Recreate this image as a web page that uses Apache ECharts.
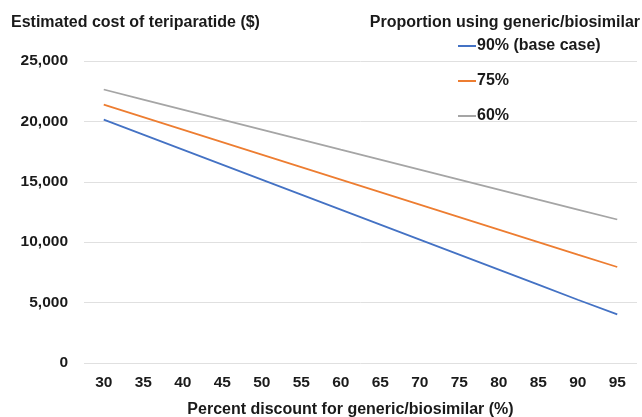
<!DOCTYPE html>
<html>
<head>
<meta charset="utf-8">
<script src="https://cdn.jsdelivr.net/npm/echarts@6/dist/echarts.min.js"></script>
<style>
html,body{margin:0;padding:0;background:#fff;}
#chart{width:642px;height:417px;}
</style>
</head>
<body>
<div id="chart"></div>
<script>
const categories = ['30','35','40','45','50','55','60','65','70','75','80','85','90','95'];
const seriesNames = ['90% (base case)','75%','60%'];
const base90 = [20150,18910,17660,16420,15180,13940,12700,11450,10210,8970,7730,6490,5240,4020];
const prop75 = [21390,20360,19320,18290,17250,16220,15180,14150,13110,12080,11040,10010,8970,7950];
const prop60 = [22640,21810,20980,20150,19320,18490,17660,16840,16010,15180,14350,13520,12700,11880];
const yTicks = {min:0, max:25000, interval:5000};
const colors = ['#4472C4','#ED7D31','#A5A5A5'];
const textColor = '#1a1a1a';
const font = 'Liberation Sans, Arial, sans-serif';

const chart = echarts.init(document.getElementById('chart'), null, {renderer:'canvas'});
const values = [base90, prop75, prop60];
chart.setOption({
  animation:false,
  backgroundColor:'#fff',
  title:[
    {text:'Estimated cost of teriparatide ($)', left:11, top:14.5, padding:0,
     textStyle:{fontFamily:font, fontSize:16, fontWeight:'bold', color:textColor}},
    {text:'Proportion using generic/biosimilar', right:2, top:14.5, padding:0,
     textStyle:{fontFamily:font, fontSize:16, fontWeight:'bold', color:textColor}}
  ],
  legend:{
    orient:'vertical', left:453, top:33, itemGap:19,
    icon:'rect', itemWidth:18, itemHeight:2,
    textStyle:{fontFamily:font, fontSize:16, fontWeight:'bold', color:textColor, padding:[0,0,0,-4]},
    data:seriesNames
  },
  grid:{left:84, right:5, top:61, bottom:54, outerBoundsMode:'none', containLabel:false},
  xAxis:{
    type:'category', data:categories, boundaryGap:true,
    name:'Percent discount for generic/biosimilar (%)', nameLocation:'middle', nameGap:39,
    nameTextStyle:{fontFamily:font, fontSize:16, fontWeight:'bold', color:textColor, padding:[0,20,0,0]},
    axisLine:{show:false}, axisTick:{show:false},
    axisLabel:{fontFamily:font, fontSize:15.5, fontWeight:'bold', color:textColor, margin:12}
  },
  yAxis:{
    type:'value', min:yTicks.min, max:yTicks.max, interval:yTicks.interval,
    axisLine:{show:false}, axisTick:{show:false},
    splitLine:{lineStyle:{color:'#e0e0e0', width:1}},
    axisLabel:{fontFamily:font, fontSize:15.5, fontWeight:'bold', color:textColor, margin:16,
      formatter:v=>v.toLocaleString('en-US')}
  },
  series: seriesNames.map((n,i)=>({
    name:n, type:'line', data:values[i], symbol:'none',
    lineStyle:{color:colors[i], width:1.75}, itemStyle:{color:colors[i]}
  }))
});
</script>
</body>
</html>
